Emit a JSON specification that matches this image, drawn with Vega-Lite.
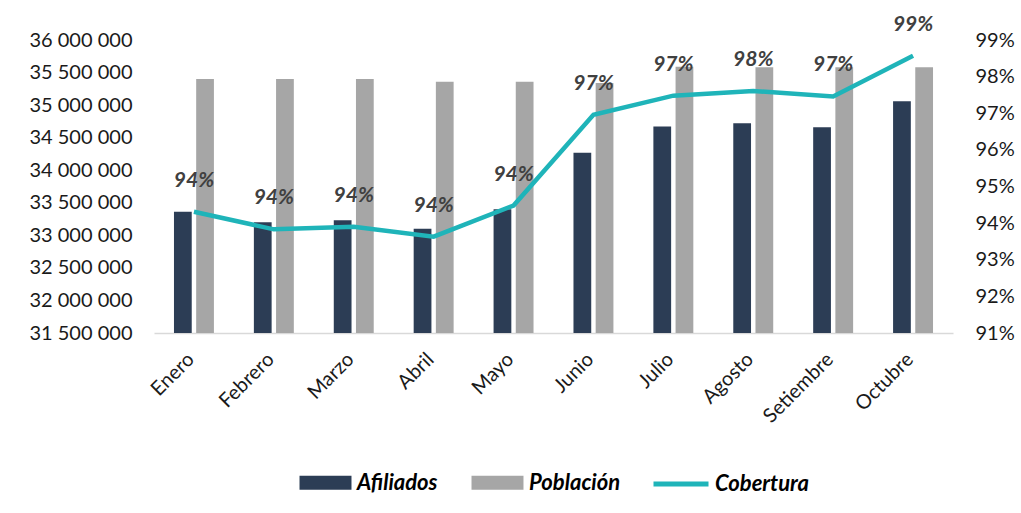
{
  "$schema": "https://vega.github.io/schema/vega-lite/v6.json",
  "width": 799,
  "height": 293,
  "autosize": "none",
  "padding": {"left": 154, "top": 40, "right": 68, "bottom": 180},
  "config": {
    "font": "Lato",
    "view": {"stroke": null},
    "legend": {"layout": {"bottom": {"anchor": "middle", "direction": "horizontal", "center": true, "margin": 30}}}
  },
  "data": {
    "values": [
      {"mes": "Enero", "Afiliados": 33363000, "Población": 35400000, "Cobertura": 0.9431},
      {"mes": "Febrero", "Afiliados": 33200000, "Población": 35400000, "Cobertura": 0.9383},
      {"mes": "Marzo", "Afiliados": 33230000, "Población": 35400000, "Cobertura": 0.9390},
      {"mes": "Abril", "Afiliados": 33100000, "Población": 35360000, "Cobertura": 0.9363},
      {"mes": "Mayo", "Afiliados": 33400000, "Población": 35360000, "Cobertura": 0.9448},
      {"mes": "Junio", "Afiliados": 34270000, "Población": 35340000, "Cobertura": 0.9696},
      {"mes": "Julio", "Afiliados": 34670000, "Población": 35590000, "Cobertura": 0.9748},
      {"mes": "Agosto", "Afiliados": 34720000, "Población": 35580000, "Cobertura": 0.9761},
      {"mes": "Setiembre", "Afiliados": 34660000, "Población": 35580000, "Cobertura": 0.9746},
      {"mes": "Octubre", "Afiliados": 35060000, "Población": 35580000, "Cobertura": 0.9857}
    ]
  },
  "encoding": {
    "x": {
      "field": "mes",
      "type": "nominal",
      "sort": null,
      "scale": {"paddingInner": 0.5, "paddingOuter": 0.25},
      "axis": {
        "title": null,
        "labelAngle": -45,
        "labelFontSize": 20,
        "labelColor": "#1a1a1a",
        "ticks": false,
        "labelPadding": 16,
        "labelOffset": -10,
        "domainColor": "#d9d9d9",
        "domainWidth": 1.5
      }
    }
  },
  "layer": [
    {
      "transform": [{"fold": ["Afiliados", "Población"], "as": ["serie", "valor"]}],
      "mark": {"type": "bar"},
      "encoding": {
        "xOffset": {"field": "serie", "sort": ["Afiliados", "Población"], "scale": {"paddingInner": 0.2}},
        "y": {
          "field": "valor",
          "type": "quantitative",
          "scale": {"domain": [31500000, 36000000], "zero": false},
          "axis": {
            "title": null,
            "values": [31500000, 32000000, 32500000, 33000000, 33500000, 34000000, 34500000, 35000000, 35500000, 36000000],
            "labelExpr": "replace(format(datum.value, ','), /,/g, ' ')",
            "grid": false,
            "ticks": false,
            "domain": false,
            "labelFontSize": 20,
            "labelColor": "#1a1a1a",
            "labelPadding": 22
          }
        },
        "y2": {"datum": 31500000},
        "fill": {
          "field": "serie",
          "type": "nominal",
          "scale": {"domain": ["Afiliados", "Población"], "range": ["#2c3d55", "#a6a6a6"]},
          "legend": {
            "title": null,
            "orient": "bottom",
            "direction": "horizontal",
            "offset": 27,
            "symbolType": "M-0.945,-0.255H0.945V0.255H-0.945Z",
            "symbolSize": 3025,
            "symbolStrokeWidth": 0,
            "labelFontSize": 22,
            "labelFontWeight": "bold",
            "labelFontStyle": "italic",
            "labelColor": "#000000",
            "labelOffset": 4,
            "columnPadding": 32
          }
        }
      }
    },
    {
      "encoding": {
        "y": {
          "field": "Cobertura",
          "type": "quantitative",
          "scale": {"domain": [0.91, 0.99], "zero": false},
          "axis": {
            "orient": "right",
            "title": null,
            "values": [0.91, 0.92, 0.93, 0.94, 0.95, 0.96, 0.97, 0.98, 0.99],
            "format": ".0%",
            "grid": false,
            "ticks": false,
            "domain": false,
            "labelFontSize": 20,
            "labelColor": "#1a1a1a",
            "labelPadding": 22
          }
        }
      },
      "layer": [
        {
          "mark": {"type": "line", "strokeWidth": 4.5},
          "encoding": {
            "stroke": {
              "datum": "Cobertura",
              "type": "nominal",
              "scale": {"domain": ["Cobertura"], "range": ["#1fb4b9"]},
              "legend": {
                "title": null,
                "orient": "bottom",
                "offset": 27,
                "symbolType": "stroke",
                "symbolSize": 3025,
                "symbolStrokeWidth": 5,
                "labelFontSize": 22,
                "labelFontWeight": "bold",
                "labelFontStyle": "italic",
                "labelColor": "#000000",
                "labelOffset": 4
              }
            }
          }
        },
        {
          "mark": {"type": "text", "dy": -31, "fontSize": 21, "fontWeight": "bold", "fontStyle": "italic", "color": "#404040"},
          "encoding": {"text": {"field": "Cobertura", "type": "quantitative", "format": ".0%"}}
        }
      ]
    }
  ],
  "resolve": {"scale": {"y": "independent"}}
}
